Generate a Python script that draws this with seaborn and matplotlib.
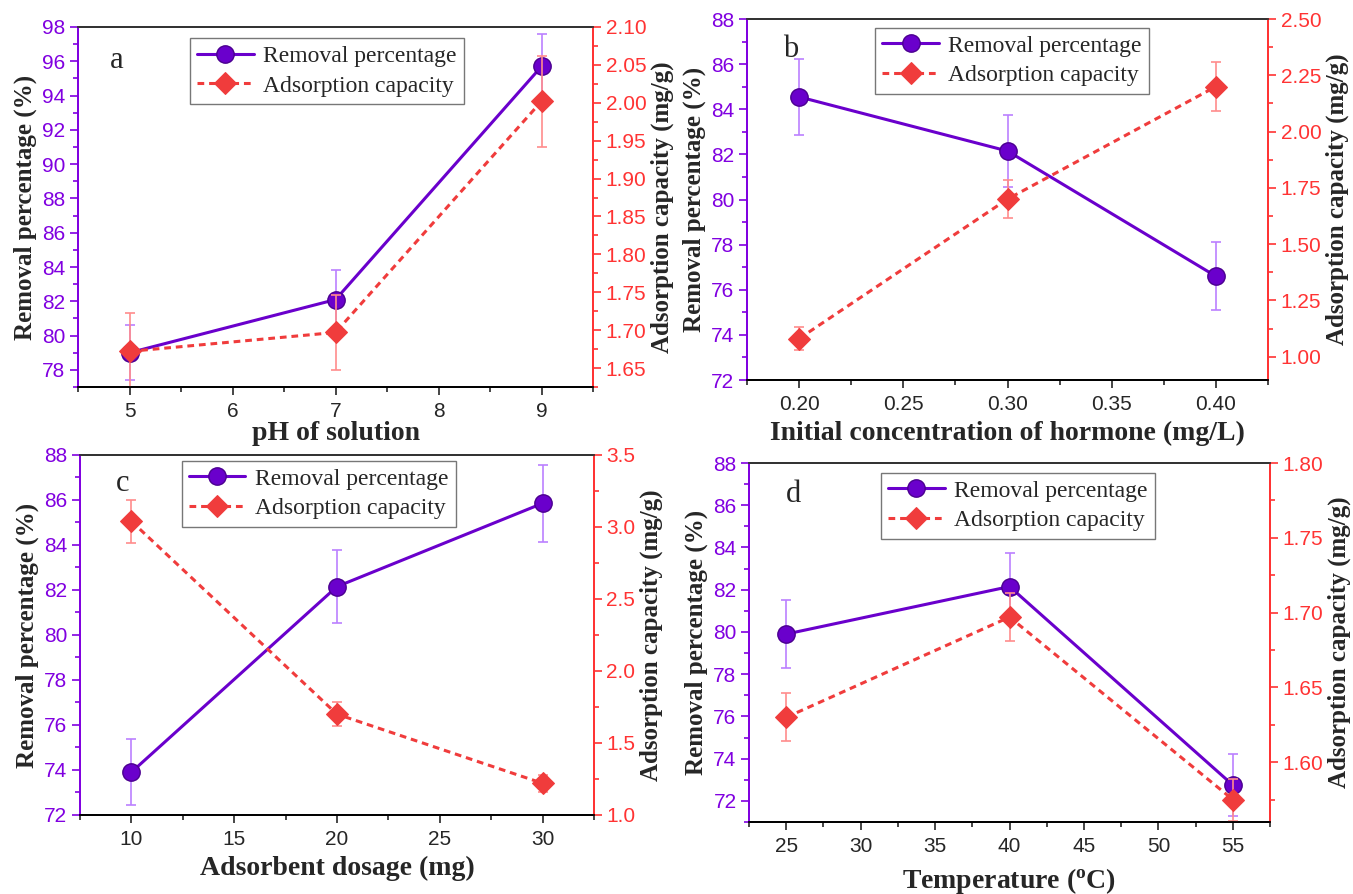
import matplotlib
matplotlib.use("Agg")
import matplotlib.pyplot as plt
import seaborn as sns
from matplotlib.ticker import MultipleLocator, FormatStrFormatter

# ========== Data ==========
ph = [5, 7, 9]
ph_removal = [79.0, 82.1, 95.7]
ph_removal_err = [1.6, 1.7, 1.9]
ph_capacity = [1.672, 1.697, 2.002]
ph_capacity_err = [0.05, 0.05, 0.06]

conc = [0.20, 0.30, 0.40]
conc_removal = [84.55, 82.15, 76.6]
conc_removal_err = [1.7, 1.6, 1.5]
conc_capacity = [1.08, 1.70, 2.20]
conc_capacity_err = [0.05, 0.085, 0.11]

dose = [10, 20, 30]
dose_removal = [73.9, 82.15, 85.85]
dose_removal_err = [1.47, 1.63, 1.72]
dose_capacity = [3.04, 1.70, 1.22]
dose_capacity_err = [0.15, 0.085, 0.06]

temp = [25, 40, 55]
temp_removal = [79.9, 82.15, 72.75]
temp_removal_err = [1.6, 1.6, 1.45]
temp_capacity = [1.630, 1.697, 1.575]
temp_capacity_err = [0.016, 0.016, 0.014]

# ========== Style ==========
sns.set_style("ticks")
plt.rcParams['font.family'] = ['Liberation Sans', 'DejaVu Sans']

PURPLE = '#6A00CC'
PURPLE_TXT = '#8000E0'
PURPLE_ERR = '#BB80FF'
RED = '#F03C3C'
RED_TXT = '#FF3333'
RED_ERR = '#FF8C8C'
SERIF = ['Liberation Serif', 'DejaVu Serif']

fig = plt.figure(figsize=(13.53, 8.94), dpi=100)

panels = [
    # letter, rect, x, removal, err, capacity, err, xlabel, xlim, xmaj, xfmt, ylim_l, ylim_r, rmaj, rfmt,
    # legend pos, letter pos, xlabel pad
    ('a', [0.0577, 0.5671, 0.3806, 0.4027], ph, ph_removal, ph_removal_err, ph_capacity, ph_capacity_err,
     'pH of solution', (4.5, 9.5), 1, '%d', (77, 98), (1.625, 2.10), 0.05, '%.2f', (0.2175, 0.969), (0.062, 0.908), 0),
    ('b', [0.5521, 0.5749, 0.3851, 0.4038], conc, conc_removal, conc_removal_err, conc_capacity, conc_capacity_err,
     'Initial concentration of hormone (mg/L)', (0.175, 0.425), 0.05, '%.2f', (72, 88), (0.896, 2.50), 0.25, '%.2f',
     (0.246, 0.975), (0.069, 0.917), 5),
    ('c', [0.0591, 0.0884, 0.3799, 0.4027], dose, dose_removal, dose_removal_err, dose_capacity, dose_capacity_err,
     'Adsorbent dosage (mg)', (7.5, 32.5), 5, '%d', (72, 88), (1.0, 3.5), 0.5, '%.1f', (0.198, 0.983), (0.07, 0.922), 5),
    ('d', [0.5536, 0.0805, 0.3851, 0.4016], temp, temp_removal, temp_removal_err, temp_capacity, temp_capacity_err,
     'Temperature ($\\mathregular{^oC}$)', (22.5, 57.5), 5, '%d', (71, 88), (1.56, 1.80), 0.05, '%.2f',
     (0.253, 0.972), (0.071, 0.911), 7),
]

for (letter, rect, x, rem, rem_err, cap, cap_err, xlabel, xlim, xmaj, xfmt,
     ylim_l, ylim_r, rmaj, rfmt, leg_pos, let_pos, xpad) in panels:
    ax = fig.add_axes(rect)
    ax2 = ax.twinx()

    # error bars
    ax.errorbar(x, rem, yerr=rem_err, fmt='none', ecolor=PURPLE_ERR, elinewidth=1.2,
                capsize=3.5, capthick=1.2, zorder=1)
    ax2.errorbar(x, cap, yerr=cap_err, fmt='none', ecolor=RED_ERR, elinewidth=1.2,
                 capsize=3.5, capthick=1.2, zorder=1)

    # lines
    sns.lineplot(x=x, y=rem, ax=ax, color=PURPLE, marker='o', markersize=12.5,
                 markeredgecolor='#4B0090', markeredgewidth=1, linewidth=2.2, legend=False)
    sns.lineplot(x=x, y=cap, ax=ax2, color=RED, marker='D', markersize=11.5,
                 markeredgecolor=RED, linewidth=2.2, linestyle=(0, (2.2, 1.6)), legend=False)

    ax.set_xlim(*xlim)
    ax.set_ylim(*ylim_l)
    ax2.set_ylim(*ylim_r)

    ax.xaxis.set_major_locator(MultipleLocator(xmaj))
    ax.xaxis.set_minor_locator(MultipleLocator(xmaj / 2))
    ax.xaxis.set_major_formatter(FormatStrFormatter(xfmt))
    ax.yaxis.set_major_locator(MultipleLocator(2))
    ax.yaxis.set_minor_locator(MultipleLocator(1))
    ax2.yaxis.set_major_locator(MultipleLocator(rmaj))
    ax2.yaxis.set_minor_locator(MultipleLocator(rmaj / 2))
    ax2.yaxis.set_major_formatter(FormatStrFormatter(rfmt))

    # spines and ticks
    for a in (ax, ax2):
        a.spines['top'].set_color('#333333')
        a.spines['bottom'].set_color('black')
        a.spines['left'].set_color(PURPLE_TXT)
        a.spines['right'].set_color(RED_TXT)
        for s in a.spines.values():
            s.set_linewidth(1.3)
    ax.tick_params(axis='x', which='major', direction='out', length=6, width=1.2, labelsize=15, pad=5)
    ax.tick_params(axis='x', which='minor', direction='out', length=3.5, width=1.2)
    ax.tick_params(axis='y', which='major', direction='out', length=6, width=1.2, labelsize=15,
                   colors=PURPLE_TXT, pad=3)
    ax.tick_params(axis='y', which='minor', direction='out', length=3.5, width=1.2, colors=PURPLE_TXT)
    ax2.tick_params(axis='y', which='major', direction='out', length=6, width=1.2, labelsize=15,
                    colors=RED_TXT, pad=3)
    ax2.tick_params(axis='y', which='minor', direction='out', length=3.5, width=1.2, colors=RED_TXT)

    ax.set_xlabel(xlabel, fontsize=20, fontweight='bold', family=SERIF, labelpad=xpad)
    ax.set_ylabel('Removal percentage (%)', fontsize=18, fontweight='bold', family=SERIF, labelpad=4)
    ax2.set_ylabel('Adsorption capacity (mg/g)', fontsize=18, fontweight='bold', family=SERIF, labelpad=3)

    ax.text(let_pos[0], let_pos[1], letter, transform=ax.transAxes, fontsize=22, family=SERIF,
            va='center', ha='left')

    handles = [ax.get_lines()[-1], ax2.get_lines()[-1]]
    leg = ax2.legend(handles, ['Removal percentage', 'Adsorption capacity'], loc='upper left',
                     bbox_to_anchor=leg_pos, borderaxespad=0, fancybox=False, framealpha=1,
                     edgecolor='#777777', prop={'family': SERIF, 'size': 17}, handlelength=2.4,
                     handletextpad=0.4, labelspacing=0.35, borderpad=0.3, numpoints=1)
    leg.get_frame().set_linewidth(1.0)

fig.savefig('out.png', dpi=100)
